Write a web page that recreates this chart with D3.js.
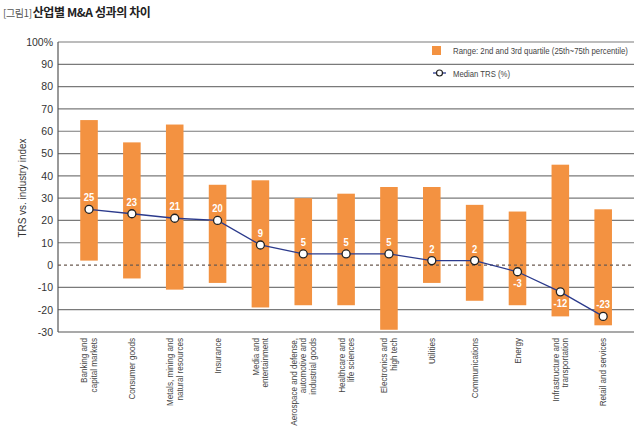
<!DOCTYPE html>
<html><head><meta charset="utf-8">
<script src="https://cdn.jsdelivr.net/npm/d3@7"></script>
<style>
body{margin:0;background:#fff;}
svg{display:block;font-family:"Liberation Sans",Arial,sans-serif;}
</style></head>
<body><svg id="c" width="640" height="433"></svg>
<script>
const categories = [
  ["Banking and","capital markets"],
  ["Consumer goods"],
  ["Metals, mining and","natural resources"],
  ["Insurance"],
  ["Media and","entertainment"],
  ["Aerospace and defense,","automotive and","industrial goods"],
  ["Healthcare and","life sciences"],
  ["Electronics and","high tech"],
  ["Utilities"],
  ["Communications"],
  ["Energy"],
  ["Infrastructure and","transportation"],
  ["Retail and services"]
];
const q25 = [2, -6, -11, -8, -19, -18, -18, -29, -8, -16, -18, -23, -27];
const q75 = [65, 55, 63, 36, 38, 30, 32, 35, 35, 27, 24, 45, 25];
const median = [25, 23, 21, 20, 9, 5, 5, 5, 2, 2, -3, -12, -23];
const yTicks = [100, 90, 80, 70, 60, 50, 40, 30, 20, 10, 0, -10, -20, -30];
const legendLabels = ["Range: 2nd and 3rd quartile (25th~75th percentile)", "Median TRS (%)"];

const svg = d3.select("#c");
const axL = 58, axR = 634;
const y = d3.scaleLinear().domain([-30, 100]).range([332, 42]);
const x = d3.scaleBand().domain(d3.range(categories.length)).range([67.6, 624.6])
  .paddingInner(0.59).paddingOuter(0.295);

// title
const t = svg.append("text").attr("x", 3).attr("y", 17).style("font-family", "'Noto Sans CJK KR',sans-serif");
t.append("tspan").text("[그림1]").attr("fill", "#555").style("font-weight", "400").style("font-size", "10px").style("letter-spacing", "-0.4px");
t.append("tspan").text("산업별 M&A 성과의 차이").attr("fill", "#222").style("font-weight", "700").style("font-size", "12px").style("letter-spacing", "-0.4px").attr("dx", 1);

// gridlines
yTicks.forEach(v => {
  if (v === 0) return;
  svg.append("line").attr("x1", axL).attr("x2", axR).attr("y1", y(v)).attr("y2", y(v))
    .attr("stroke", v === -30 ? "#555" : "#7a7a7a").attr("stroke-width", 1.2);
});
svg.append("line").attr("x1", axL).attr("x2", axL).attr("y1", y(100)).attr("y2", y(-30)).attr("stroke", "#555").attr("stroke-width", 1.2);

// tick labels
const yAxis = d3.axisLeft(y).tickValues(yTicks).tickSize(0).tickPadding(5)
  .tickFormat(d => d === 100 ? "100%" : d);
const ga = svg.append("g").attr("transform", `translate(${axL},0)`).call(yAxis);
ga.select(".domain").remove();
ga.selectAll("text").attr("fill", "#333").style("font-size", "10.5px").style("font-family", "'Liberation Sans',sans-serif");

// y label
svg.append("text").attr("transform", "translate(26,188) rotate(-90) scale(0.9,1)").attr("text-anchor", "middle")
  .attr("fill", "#333").style("font-size", "11px").text("TRS vs. industry index");

// bars
svg.append("g").selectAll("rect").data(categories).join("rect")
  .attr("x", (d, i) => x(i)).attr("width", x.bandwidth())
  .attr("y", (d, i) => y(q75[i])).attr("height", (d, i) => y(q25[i]) - y(q75[i]))
  .attr("fill", "#f39241");

// zero dashed line
svg.append("line").attr("x1", axL).attr("x2", axR).attr("y1", y(0)).attr("y2", y(0))
  .attr("stroke", "#6b5a50").attr("stroke-width", 1.2).attr("stroke-dasharray", "3,3");

// median line
const cx = i => x(i) + x.bandwidth() / 2;
svg.append("path").datum(median)
  .attr("d", d3.line().x((d, i) => cx(i)).y(d => y(d)))
  .attr("fill", "none").attr("stroke", "#2b3a8c").attr("stroke-width", 1.3);
svg.append("g").selectAll("circle").data(median).join("circle")
  .attr("cx", (d, i) => cx(i)).attr("cy", d => y(d)).attr("r", 4)
  .attr("fill", "#fff").attr("stroke", "#222").attr("stroke-width", 1.3);
svg.append("g").selectAll("text").data(median).join("text")
  .attr("transform", (d, i) => `translate(${cx(i)},${(d >= 0 || i === median.length - 1) ? y(d) - 8 : y(d) + 15}) scale(0.9,1)`)
  .attr("text-anchor", "middle").attr("fill", "#fff")
  .style("font-size", "10.5px").style("font-weight", "700")
  .text(d => d);

// x labels
categories.forEach((lines, i) => {
  const n = lines.length, lh = 9.5;
  const g = svg.append("g").attr("transform", `translate(${cx(i)},338) rotate(-90) scale(0.9,1)`);
  lines.forEach((s, k) => {
    g.append("text").attr("x", 0).attr("y", (k - (n - 1) / 2) * lh + 3.2)
      .attr("text-anchor", "end").attr("fill", "#444").style("font-size", "9px").text(s);
  });
});

// legend
function fitText(label, px, py, w, fs) {
  const el = svg.append("text").attr("fill", "#444").style("font-size", fs + "px").text(label);
  const nat = el.node().getComputedTextLength();
  const s = Math.min(1, w / nat);
  el.attr("transform", `translate(${px},${py}) scale(${s},1)`);
}
svg.append("rect").attr("x", 432).attr("y", 46).attr("width", 9).attr("height", 9).attr("fill", "#f39241");
fitText(legendLabels[0], 453, 54, 175, 9.5);
svg.append("line").attr("x1", 433).attr("x2", 446).attr("y1", 73).attr("y2", 73).attr("stroke", "#2b3a8c").attr("stroke-width", 1.3);
svg.append("circle").attr("cx", 439.5).attr("cy", 73).attr("r", 3).attr("fill", "#fff").attr("stroke", "#222").attr("stroke-width", 1.2);
fitText(legendLabels[1], 453, 76.5, 57, 9.5);
</script></body></html>
